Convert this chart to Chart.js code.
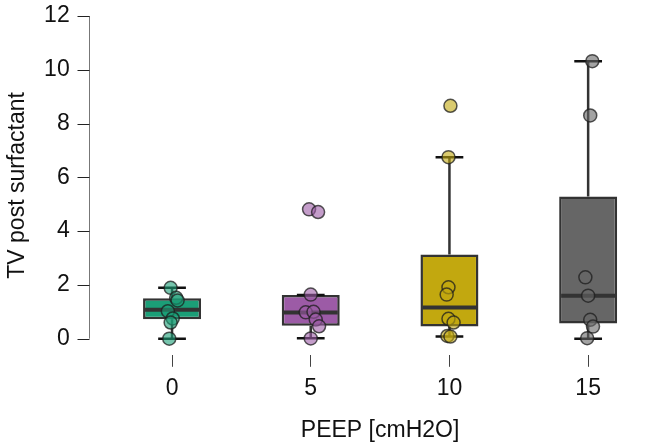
<!DOCTYPE html>
<html>
<head>
<meta charset="utf-8">
<script src="https://cdn.jsdelivr.net/npm/chart.js@4.4.1/dist/chart.umd.min.js"></script>
<style>
html, body { margin: 0; padding: 0; background: #fff; }
#wrap { width: 672px; height: 448px; }
</style>
</head>
<body>
<div id="wrap"><canvas id="box"></canvas></div>
<script>
// PEEP groups and the box summaries
const groups = ['0', '5', '10', '15'];
const q1 = [0.72, 0.48, 0.45, 0.56];
const q3 = [1.50, 1.62, 3.13, 5.29];
const medians = [1.08, 0.97, 1.16, 1.60];
const whiskLow = [0, 0.02, 0.08, 0];
const whiskHigh = [1.89, 1.62, 6.75, 10.32];
const yTicks = [0, 2, 4, 6, 8, 10, 12];

// individual observations per group, with their strip jitter
const obs = [
    [1.89, 1.52, 1.42, 1.02, 0.75, 0.60, 0],
    [4.81, 4.71, 1.64, 0.98, 1.00, 0.71, 0.46, 0.01],
    [8.66, 6.75, 1.91, 1.64, 0.74, 0.60, 0.10, 0.08],
    [10.32, 8.30, 2.28, 1.60, 0.70, 0.45, 0.02]
];
const jitter = [
    [-0.01, 0.03, 0.04, -0.03, 0.005, -0.01, -0.02],
    [-0.012, 0.053, 0, -0.036, 0.02, 0.036, 0.06, 0],
    [0.007, -0.007, -0.007, -0.02, -0.007, 0.03, -0.015, 0.007],
    [0.03, 0.015, -0.02, 0, 0.015, 0.035, -0.007]
];

const boxColors = ['#1b9e77', '#9c5ba6', '#c2a80f', '#666666'];
const dotColors = ['rgba(27,158,119,0.6)', 'rgba(156,91,166,0.6)', 'rgba(194,168,15,0.6)', 'rgba(102,102,102,0.6)'];
const font = { family: '"Liberation Sans", Arial, sans-serif', size: 23 };

// whiskers, caps, medians, and the offset left spine
const boxParts = {
    id: 'boxParts',
    afterDatasetDraw(chart, args) {
        if (args.index !== 0) return;
        const { ctx, scales: { x, y } } = chart;
        ctx.save();
        groups.forEach((g, i) => {
            const cx = x.getPixelForValue(i);
            const half = x.getPixelForValue(i + 0.209) - cx;
            const cap = x.getPixelForValue(i + 0.1) - cx;
            ctx.strokeStyle = '#333';
            ctx.lineWidth = 2.5;
            ctx.beginPath();
            ctx.moveTo(cx, y.getPixelForValue(q3[i]));
            ctx.lineTo(cx, y.getPixelForValue(whiskHigh[i]));
            ctx.moveTo(cx, y.getPixelForValue(q1[i]));
            ctx.lineTo(cx, y.getPixelForValue(whiskLow[i]));
            ctx.stroke();
            ctx.strokeStyle = '#111';
            ctx.beginPath();
            ctx.moveTo(cx - cap, y.getPixelForValue(whiskHigh[i]));
            ctx.lineTo(cx + cap, y.getPixelForValue(whiskHigh[i]));
            ctx.moveTo(cx - cap, y.getPixelForValue(whiskLow[i]));
            ctx.lineTo(cx + cap, y.getPixelForValue(whiskLow[i]));
            ctx.stroke();
            ctx.strokeStyle = '#333';
            ctx.lineWidth = 4;
            ctx.beginPath();
            ctx.moveTo(cx - half + 2, y.getPixelForValue(medians[i]));
            ctx.lineTo(cx + half - 2, y.getPixelForValue(medians[i]));
            ctx.stroke();
        });
        ctx.restore();
    },
    afterDraw(chart) {
        const { ctx, scales: { x, y } } = chart;
        const sx = Math.round(x.getPixelForValue(-0.6)) + 0.5;
        ctx.save();
        ctx.lineWidth = 1;
        ctx.strokeStyle = '#777';
        ctx.beginPath();
        ctx.moveTo(sx, y.getPixelForValue(yTicks[0]));
        ctx.lineTo(sx, y.getPixelForValue(yTicks[yTicks.length - 1]));
        ctx.stroke();
        ctx.strokeStyle = '#222';
        ctx.beginPath();
        yTicks.forEach(v => {
            const py = Math.round(y.getPixelForValue(v)) + 0.5;
            ctx.moveTo(sx - 12, py);
            ctx.lineTo(sx, py);
        });
        ctx.stroke();
        ctx.restore();
    }
};

const datasets = [{
    type: 'bar',
    data: groups.map((g, i) => ({ x: i, y: [q1[i], q3[i]] })),
    backgroundColor: boxColors,
    borderColor: '#333',
    borderWidth: 2.5,
    borderSkipped: false,
    barPercentage: 0.418,
    categoryPercentage: 1,
    order: 1
}];
groups.forEach((g, i) => {
    datasets.push({
        type: 'scatter',
        data: obs[i].map((v, k) => ({ x: i + jitter[i][k], y: v })),
        pointRadius: 6.5,
        pointBackgroundColor: dotColors[i],
        pointBorderColor: 'rgba(30,30,30,0.75)',
        pointBorderWidth: 1.5,
        clip: false,
        order: 0
    });
});

new Chart(document.getElementById('box'), {
    type: 'bar',
    data: { datasets: datasets },
    options: {
        responsive: true,
        maintainAspectRatio: false,
        animation: false,
        layout: { padding: { left: 0, right: 14.5, top: 16, bottom: 0 } },
        plugins: { legend: { display: false }, tooltip: { enabled: false } },
        scales: {
            x: {
                type: 'linear',
                min: -0.5,
                max: 3.5,
                offset: false,
                afterBuildTicks: s => { s.ticks = groups.map((g, i) => ({ value: i })); },
                ticks: { callback: v => groups[v], font: font, color: '#111', padding: 8, maxRotation: 0 },
                grid: { display: true, drawOnChartArea: false, drawTicks: true, tickLength: 12, color: '#444', offset: false },
                border: { display: false },
                title: { display: true, text: 'PEEP [cmH2O]', font: font, color: '#111', padding: { top: 6, bottom: 4 } }
            },
            y: {
                min: -0.6,
                max: 12,
                afterBuildTicks: s => { s.ticks = yTicks.map(v => ({ value: v })); },
                ticks: { font: font, color: '#111', padding: 2 },
                grid: { display: true, drawOnChartArea: false, drawTicks: true, tickLength: 31, color: 'rgba(0,0,0,0)' },
                border: { display: false },
                title: { display: true, text: 'TV post surfactant', font: font, color: '#111', padding: { top: 4, bottom: 10.5 } }
            }
        }
    },
    plugins: [boxParts]
});
</script>
</body>
</html>
